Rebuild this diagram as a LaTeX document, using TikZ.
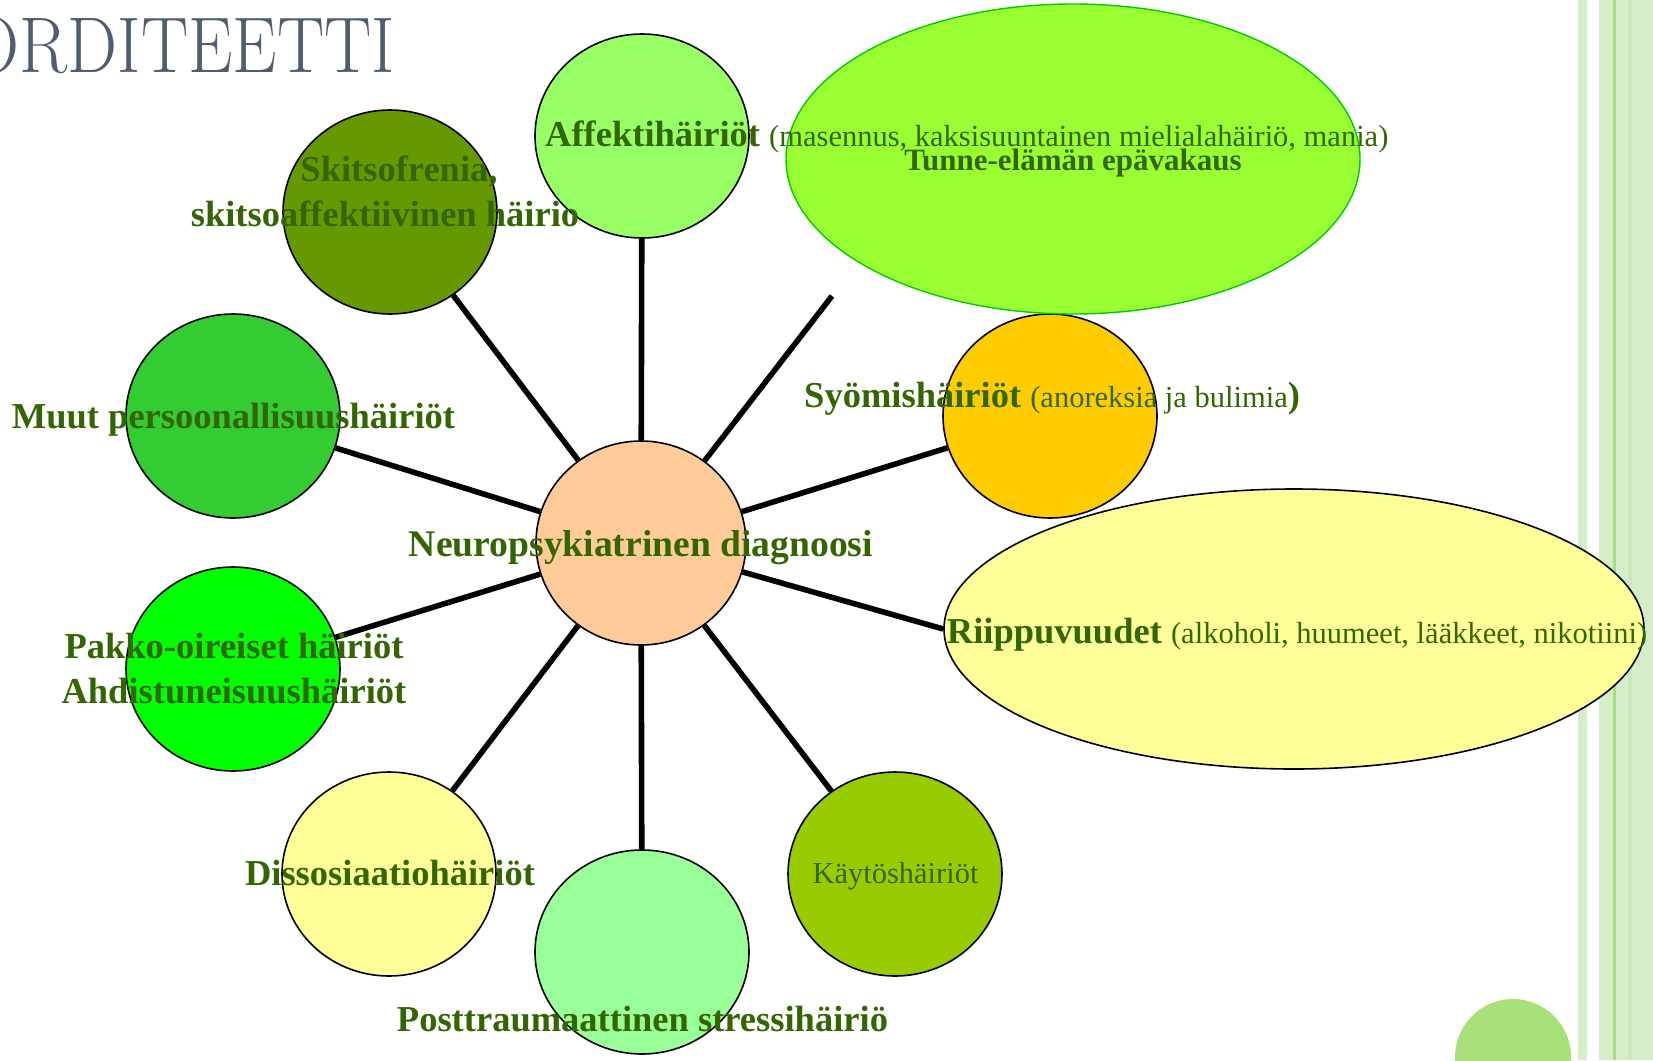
\documentclass[tikz,border=0pt]{standalone}
\usepackage{fontspec}
\usepackage{graphicx}
\newfontfamily\gara{Liberation Serif}
\usetikzlibrary{shapes.geometric,backgrounds}
\definecolor{txt}{RGB}{51,102,0}
\definecolor{titlec}{RGB}{80,93,113}
\definecolor{cCenter}{HTML}{FFCC99}
\definecolor{cAff}{HTML}{99FF66}
\definecolor{cSkit}{HTML}{669900}
\definecolor{cMuut}{HTML}{33CC33}
\definecolor{cPakko}{HTML}{00FF00}
\definecolor{cDiss}{HTML}{FFFF99}
\definecolor{cPost}{HTML}{99FF99}
\definecolor{cKayt}{HTML}{99CC00}
\definecolor{cSyo}{HTML}{FFCC00}
\definecolor{cRiip}{HTML}{FFFF99}
\definecolor{cTunne}{HTML}{99FF33}
\definecolor{cTunneB}{HTML}{00CC00}
\definecolor{stripeL}{HTML}{D6EDC9}
\definecolor{stripeM}{HTML}{CBE8BA}
\definecolor{stripeB}{HTML}{A6DC82}
\definecolor{dotc}{HTML}{A8E07A}
\newcommand\regtxt[1]{{\mdseries\fontsize{30.5}{36}\selectfont #1}}
\begin{document}
\begin{tikzpicture}[x=1pt,y=-1pt,
  blob/.style={ellipse, draw=black, line width=1.6pt, inner sep=0pt,
    minimum width=214pt, minimum height=204pt},
  spoke/.style={line width=5.6pt, draw=black},
  boldtxt/.style={text=txt, inner sep=0pt,
    font=\gara\bfseries\fontsize{36.5}{44}\selectfont},
  regtxtstyle/.style={text=txt, inner sep=0pt,
    font=\gara\fontsize{30.5}{36}\selectfont}]
\useasboundingbox (0,0) rectangle (1653,1060);

% right-hand decoration
\fill[stripeL] (1578,0) rectangle (1587,1060);
\fill[stripeL] (1599,0) rectangle (1653,1060);
\fill[stripeB] (1613,0) rectangle (1616,1060);
\fill[stripeM] (1628,0) rectangle (1632,1060);
\begin{scope}
  \clip (0,0) rectangle (1653,1060);
  \fill[dotc] (1513,1057) circle (58);
\end{scope}

% title
\node[anchor=base east, text=titlec, inner sep=0pt,
  font=\fontsize{79}{84}\selectfont] (title) at (395,72)
  {\scalebox{0.895}[1]{ORDITEETTI}};

% shapes
\node[blob, fill=cCenter, minimum width=210pt] (c) at (641,543) {};
\node[blob, fill=cAff] (aff) at (642,136) {};
\node[blob, fill=cSkit] (skit) at (390,212) {};
\node[blob, fill=cMuut] (muut) at (233,416) {};
\node[blob, fill=cPakko] (pakko) at (233,669) {};
\node[blob, fill=cDiss] (diss) at (389,874) {};
\node[blob, fill=cPost] (post) at (642,952) {};
\node[blob, fill=cKayt] (kayt) at (895,874) {};
\node[blob, fill=cSyo] (syo) at (1050,416) {};
\node[ellipse, draw=black, line width=1.6pt, inner sep=0pt, fill=cRiip,
  minimum width=700pt, minimum height=280pt] (riip) at (1294,629) {};
\node[ellipse, draw=cTunneB, line width=1.4pt, inner sep=0pt, fill=cTunne,
  minimum width=574pt, minimum height=310pt] (tunne) at (1073,159) {};
\coordinate (tend) at (832,296);

% spokes
\begin{scope}[on background layer]
  \fill[white] (0,0) rectangle (1653,1060);
  \draw[spoke] (c) -- (aff);
  \draw[spoke] (c) -- (skit);
  \draw[spoke] (c) -- (muut);
  \draw[spoke] (c) -- (pakko);
  \draw[spoke] (c) -- (diss);
  \draw[spoke] (c) -- (post);
  \draw[spoke] (c) -- (kayt);
  \draw[spoke] (c) -- (riip.west);
  \draw[spoke] (c) -- (syo);
  \draw[spoke] (c) -- (tend);
\end{scope}

% texts
\node[boldtxt, anchor=base, font=\gara\bfseries\fontsize{37.6}{44}\selectfont]
  (tneuro) at (641,556) {Neuropsykiatrinen diagnoosi};
\node[boldtxt, anchor=base west] (taff) at (545,146.5)
  {Affektihäiriöt \regtxt{(masennus, kaksisuuntainen mielialahäiriö, mania)}};
\node[text=txt, inner sep=0pt, font=\gara\bfseries\fontsize{31}{37}\selectfont,
  anchor=base] (ttunne) at (1073,170) {Tunne-elämän epävakaus};
\node[boldtxt, anchor=base] (tskA) at (399,181) {Skitsofrenia,};
\node[boldtxt, anchor=base] (tskB) at (385,226) {skitsoaffektiivinen häirio};
\node[boldtxt, anchor=base] (tmuut) at (233.5,428) {Muut persoonallisuushäiriöt};
\node[boldtxt, anchor=base] (tpakA) at (234,658) {Pakko-oireiset häiriöt};
\node[boldtxt, anchor=base] (tpakB) at (234,703) {Ahdistuneisuushäiriöt};
\node[boldtxt, anchor=base] (tdiss) at (390,885) {Dissosiaatiohäiriöt};
\node[boldtxt, anchor=base] (tpost) at (642.5,1031) {Posttraumaattinen stressihäiriö};
\node[regtxtstyle, anchor=base] (tkayt) at (895.5,883) {Käytöshäiriöt};
\node[boldtxt, anchor=base west] (tsyo) at (804,407)
  {Syömishäiriöt \regtxt{(anoreksia ja bulimia})};
\node[boldtxt, anchor=base west] (triip) at (946.7,643)
  {Riippuvuudet \regtxt{(alkoholi, huumeet, lääkkeet, nikotiini)}};
\end{tikzpicture}
\end{document}
